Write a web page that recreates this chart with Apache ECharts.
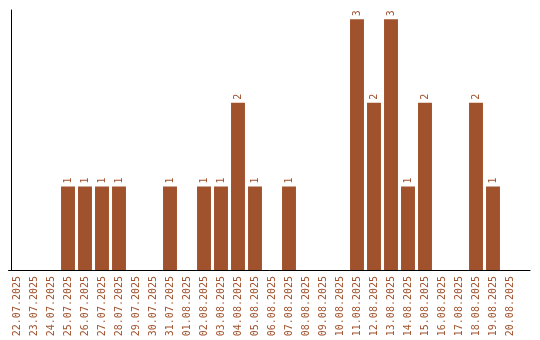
<!DOCTYPE html>
<html><head><meta charset="utf-8">
<script src="https://cdn.jsdelivr.net/npm/echarts@6/dist/echarts.min.js"></script>
<style>html,body{margin:0;padding:0;background:#fff}#c{width:540px;height:340px}</style>
</head><body><div id="c"></div>
<script>
var categories = ["22.07.2025","23.07.2025","24.07.2025","25.07.2025","26.07.2025","27.07.2025","28.07.2025","29.07.2025","30.07.2025","31.07.2025","01.08.2025","02.08.2025","03.08.2025","04.08.2025","05.08.2025","06.08.2025","07.08.2025","08.08.2025","09.08.2025","10.08.2025","11.08.2025","12.08.2025","13.08.2025","14.08.2025","15.08.2025","16.08.2025","17.08.2025","18.08.2025","19.08.2025","20.08.2025"];
var counts = [0,0,0,1,1,1,1,0,0,1,0,1,1,2,1,0,1,0,0,0,3,2,3,1,2,0,0,2,1,0];

var brown = '#a0522d';
var chart = echarts.init(document.getElementById('c'), null, {renderer:'canvas'});
chart.setOption({
  animation:false,
  grid:[{left:8.5, top:10, width:510, height:260, containLabel:false},
        {left:8.5, top:10, width:521.5, height:260, containLabel:false}],
  xAxis:[{type:'category', data:categories, gridIndex:0,
    axisLine:{show:false},
    axisTick:{show:false},
    axisLabel:{rotate:90, interval:0, color:brown, fontFamily:'DejaVu Sans Mono', fontSize:10, margin:6}},
    {type:'value', gridIndex:1, min:0, max:1, axisLine:{show:true, lineStyle:{color:'#000', width:1}},
     axisTick:{show:false}, axisLabel:{show:false}, splitLine:{show:false}}],
  yAxis:[{type:'value', min:0, max:3.11, offset:-2.5, gridIndex:0,
    splitLine:{show:false}, axisLabel:{show:false}, axisTick:{show:false},
    axisLine:{show:true, lineStyle:{color:'#000', width:1}}},
    {type:'value', gridIndex:1, show:false}],
  series:[{type:'bar', data:counts, barCategoryGap:'18%',
    itemStyle:{color:brown},
    label:{show:true, position:'top', rotate:90, align:'left', verticalAlign:'middle', distance:3,
      color:brown, fontFamily:'DejaVu Sans Mono', fontSize:10,
      formatter:function(p){return p.value ? String(p.value) : '';}}}]
});
</script></body></html>
